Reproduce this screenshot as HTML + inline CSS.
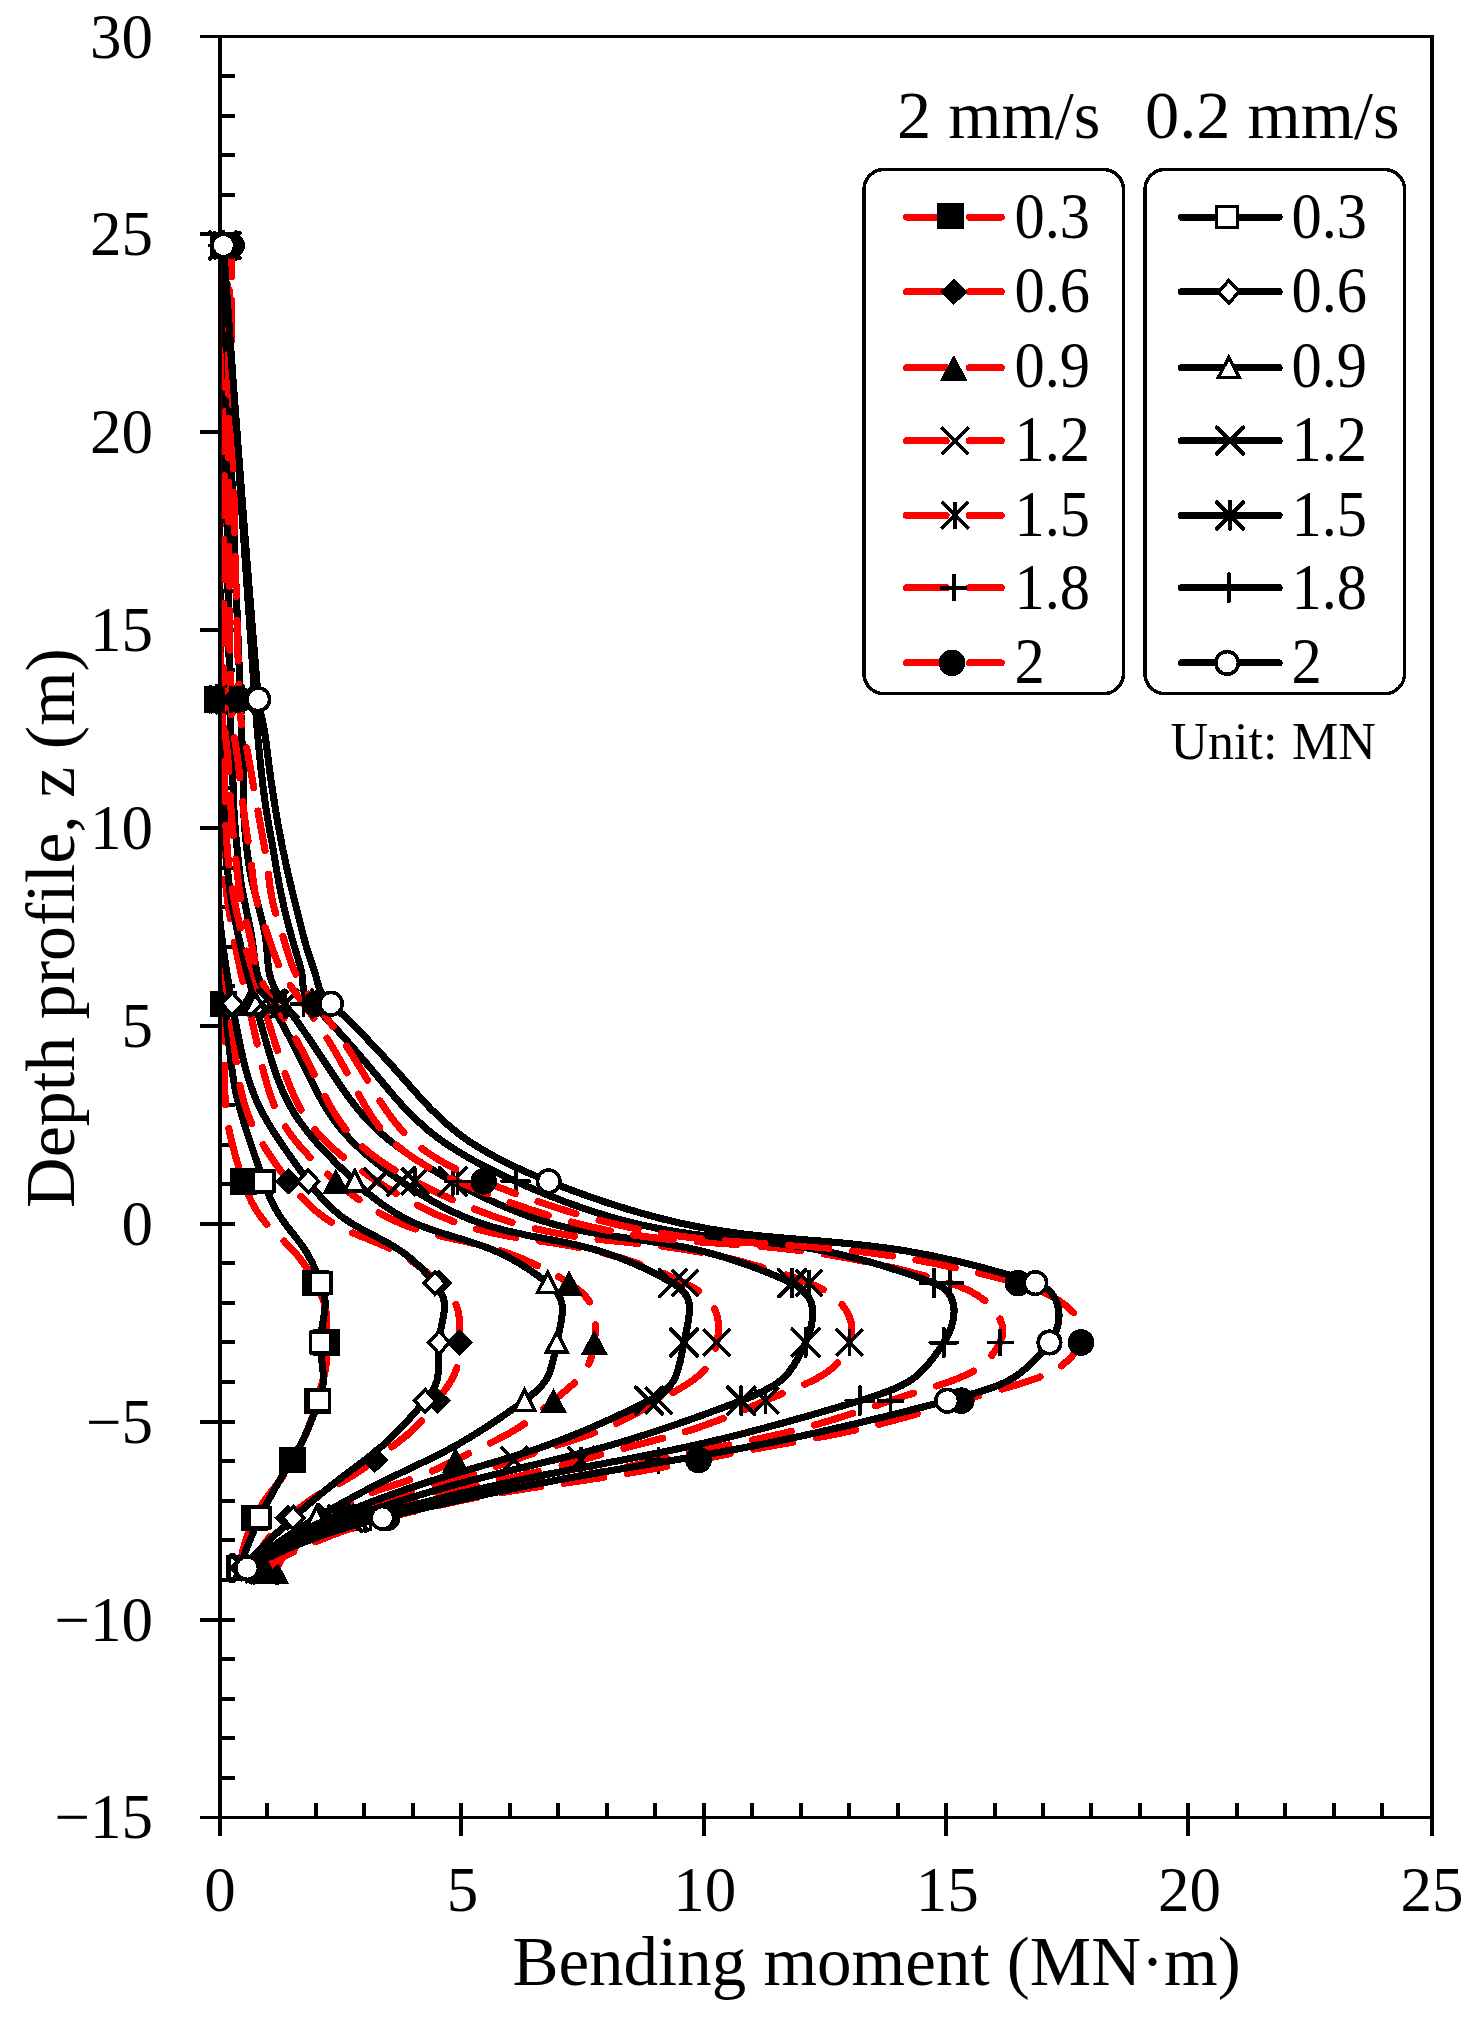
<!DOCTYPE html>
<html lang="en"><head><meta charset="utf-8"><title>Bending moment along depth profile</title>
<style>html,body{margin:0;padding:0;background:#fff}svg{display:block}text{font-family:"Liberation Serif","Times New Roman",Times,serif;fill:#000}.n{font-size:63px}.l{font-size:60.5px}.t{font-size:69px}.v{font-size:70px}.h{font-size:68.4px}.u{font-size:52px}</style></head><body>
<svg width="1481" height="2027" viewBox="0 0 1481 2027" shape-rendering="crispEdges">
<rect width="1481" height="2027" fill="#fff"/>
<g class="n" text-anchor="end">
<text x="153" y="1838.4">−15</text>
<text x="153" y="1640.5">−10</text>
<text x="153" y="1442.6">−5</text>
<text x="153" y="1244.8">0</text>
<text x="153" y="1046.9">5</text>
<text x="153" y="849">10</text>
<text x="153" y="651.1">15</text>
<text x="153" y="453.3">20</text>
<text x="153" y="255.4">25</text>
<text x="153" y="57.5">30</text>
</g>
<g class="n" text-anchor="middle">
<text x="220" y="1910.5">0</text>
<text x="462.4" y="1910.5">5</text>
<text x="704.8" y="1910.5">10</text>
<text x="947.2" y="1910.5">15</text>
<text x="1189.6" y="1910.5">20</text>
<text x="1432" y="1910.5">25</text>
</g>
<text class="t" text-anchor="middle" x="876.5" y="1985">Bending moment (MN·m)</text>
<text class="v" text-anchor="middle" transform="translate(73.5 928) rotate(-90)">Depth profile, z (m)</text>
<path d="M200 1620H235M200 1422H235M200 1224H235M200 1026H235M200 828H235M200 630H235M200 432H235M200 234H235M461 1803V1836M704 1803V1836M946 1803V1836M1188 1803V1836M220 1778H235M220 1738H235M220 1699H235M220 1659H235M220 1580H235M220 1540H235M220 1501H235M220 1461H235M220 1382H235M220 1342H235M220 1303H235M220 1263H235M220 1184H235M220 1145H235M220 1105H235M220 1065H235M220 986H235M220 947H235M220 907H235M220 868H235M220 788H235M220 749H235M220 709H235M220 670H235M220 591H235M220 551H235M220 511H235M220 472H235M220 393H235M220 353H235M220 314H235M220 274H235M220 195H235M220 155H235M220 116H235M220 76H235M267 1803V1817.4M316 1803V1817.4M364 1803V1817.4M413 1803V1817.4M510 1803V1817.4M558 1803V1817.4M607 1803V1817.4M655 1803V1817.4M752 1803V1817.4M801 1803V1817.4M849 1803V1817.4M898 1803V1817.4M995 1803V1817.4M1043 1803V1817.4M1091 1803V1817.4M1140 1803V1817.4M1237 1803V1817.4M1285 1803V1817.4M1334 1803V1817.4M1382 1803V1817.4" stroke="#000" fill="none" stroke-width="4"/>
<g stroke="#000" fill="none" stroke-linecap="butt"><path d="M200 36.5 H1433.9" stroke-width="3"/><path d="M200 1817.4 H1433.9" stroke-width="3"/><path d="M220 36.5 V1835.8" stroke-width="3.8"/><path d="M1432 35 V1835.8" stroke-width="3.8"/></g>
<clipPath id="pc"><rect x="221.9" y="36.5" width="1210.1" height="1780.9"/></clipPath>
<g fill="none" stroke-linejoin="round">
<path clip-path="url(#pc)" d="M239.4 1568.1C240.7 1559.1 243.4 1541.2 254.9 1517.8C270 1487.1 276.6 1490.4 292.7 1460C307.7 1431.8 308.1 1431.3 317 1400.7C325.1 1372.5 327 1371.5 326.7 1342.5C326.3 1312.8 329.1 1309.4 315.5 1283.1C287.4 1228.9 262.2 1238.8 243.3 1181.4C216.1 1099.1 228.1 1092.9 223.4 1003.7C215.3 851.9 217.5 851.6 217.6 699.4C217.7 472.4 221.8 321.1 223.9 245.5" stroke="#f00" stroke-width="7.1" stroke-linecap="round" stroke-dasharray="40 24"/>
<rect x="210.4" y="232.3" width="27" height="26.4" fill="#000"/><rect x="204.1" y="686.2" width="27" height="26.4" fill="#000"/><rect x="209.9" y="990.5" width="27" height="26.4" fill="#000"/><rect x="229.8" y="1168.2" width="27" height="26.4" fill="#000"/><rect x="302" y="1269.9" width="27" height="26.4" fill="#000"/><rect x="313.2" y="1329.3" width="27" height="26.4" fill="#000"/><rect x="303.5" y="1387.5" width="27" height="26.4" fill="#000"/><rect x="279.2" y="1446.8" width="27" height="26.4" fill="#000"/><rect x="241.4" y="1504.6" width="27" height="26.4" fill="#000"/><rect x="225.9" y="1554.9" width="27" height="26.4" fill="#000"/>
<path clip-path="url(#pc)" d="M221.5 245.5C220.6 321.1 219 472.4 220 699.4C220.7 851.6 211.2 852.9 224.8 1003.7C233 1093.9 234.4 1096.3 263.6 1181.4C282.4 1236 301.9 1229.7 320.8 1283.1C330.5 1310.3 321.3 1312.8 320.8 1342.5C320.4 1371.6 328.3 1373.7 318.9 1400.7C297.7 1461.4 287.9 1458.6 259.8 1517.8C248.1 1542.3 242.3 1559.5 239.4 1568.1" stroke="#000" stroke-width="7.1" stroke-linecap="round"/>
<rect x="253.2" y="1171" width="20.8" height="20.8" fill="#fff" stroke="#000" stroke-width="3.5"/><rect x="310.4" y="1272.7" width="20.8" height="20.8" fill="#fff" stroke="#000" stroke-width="3.5"/><rect x="310.4" y="1332.1" width="20.8" height="20.8" fill="#fff" stroke="#000" stroke-width="3.5"/><rect x="308.5" y="1390.3" width="20.8" height="20.8" fill="#fff" stroke="#000" stroke-width="3.5"/><rect x="249.4" y="1507.4" width="20.8" height="20.8" fill="#fff" stroke="#000" stroke-width="3.5"/><rect x="229" y="1557.7" width="20.8" height="20.8" fill="#fff" stroke="#000" stroke-width="3.5"/>
<path clip-path="url(#pc)" d="M249.1 1570.8C253.9 1560.3 263.6 1539.2 287.9 1517.8C326.4 1483.8 333.8 1492.1 374.7 1460C408.4 1433.5 412.6 1434.8 437.2 1400.7C455 1376 459 1371.8 459.5 1342.5C460 1313 461.1 1303.8 439.1 1283.1C375.5 1223.3 340.2 1250.2 288.4 1181.4C235 1110.5 241.7 1095.6 228.7 1003.7C207.6 854.5 220.9 851.6 220 699.4C218.7 472.5 222.5 321.1 224.4 245.5" stroke="#f00" stroke-width="7.1" stroke-linecap="round" stroke-dasharray="40 24"/>
<path d="M224.4 232.3l13.7 13.2l-13.7 13.2l-13.7 -13.2z" fill="#000"/><path d="M220 686.2l13.7 13.2l-13.7 13.2l-13.7 -13.2z" fill="#000"/><path d="M228.7 990.5l13.7 13.2l-13.7 13.2l-13.7 -13.2z" fill="#000"/><path d="M288.4 1168.2l13.7 13.2l-13.7 13.2l-13.7 -13.2z" fill="#000"/><path d="M439.1 1269.9l13.7 13.2l-13.7 13.2l-13.7 -13.2z" fill="#000"/><path d="M459.5 1329.3l13.7 13.2l-13.7 13.2l-13.7 -13.2z" fill="#000"/><path d="M437.2 1387.5l13.7 13.2l-13.7 13.2l-13.7 -13.2z" fill="#000"/><path d="M374.7 1446.8l13.7 13.2l-13.7 13.2l-13.7 -13.2z" fill="#000"/><path d="M287.9 1504.6l13.7 13.2l-13.7 13.2l-13.7 -13.2z" fill="#000"/><path d="M249.1 1557.6l13.7 13.2l-13.7 13.2l-13.7 -13.2z" fill="#000"/>
<path clip-path="url(#pc)" d="M221.9 245.5C220.6 321.1 217.9 472.5 221 699.4C223 851.6 205.4 856.3 232.1 1003.7C249.1 1097.3 253.2 1105.5 308.2 1181.4C354.5 1245.2 386.9 1224.2 434.8 1283.1C452.3 1304.7 441.5 1313.2 439.1 1342.5C436.7 1372 443.6 1378.5 425.1 1400.7C370.6 1466.1 358.3 1458.3 293.2 1517.8C266.7 1542 250.1 1559.4 241.8 1568.1" stroke="#000" stroke-width="7.1" stroke-linecap="round"/>
<path d="M232.1 992.5l10.6 11.2l-10.6 11.2l-10.6 -11.2z" fill="#fff" stroke="#000" stroke-width="3.5" stroke-linejoin="miter"/><path d="M308.2 1170.2l10.6 11.2l-10.6 11.2l-10.6 -11.2z" fill="#fff" stroke="#000" stroke-width="3.5" stroke-linejoin="miter"/><path d="M434.8 1271.9l10.6 11.2l-10.6 11.2l-10.6 -11.2z" fill="#fff" stroke="#000" stroke-width="3.5" stroke-linejoin="miter"/><path d="M439.1 1331.3l10.6 11.2l-10.6 11.2l-10.6 -11.2z" fill="#fff" stroke="#000" stroke-width="3.5" stroke-linejoin="miter"/><path d="M425.1 1389.5l10.6 11.2l-10.6 11.2l-10.6 -11.2z" fill="#fff" stroke="#000" stroke-width="3.5" stroke-linejoin="miter"/><path d="M293.2 1506.6l10.6 11.2l-10.6 11.2l-10.6 -11.2z" fill="#fff" stroke="#000" stroke-width="3.5" stroke-linejoin="miter"/><path d="M241.8 1556.9l10.6 11.2l-10.6 11.2l-10.6 -11.2z" fill="#fff" stroke="#000" stroke-width="3.5" stroke-linejoin="miter"/>
<path clip-path="url(#pc)" d="M275.3 1570.8C281 1559.2 292.4 1535.9 321.8 1517.8C382.6 1480.5 390.7 1492.8 455.6 1460C506.6 1434.3 510.8 1436.9 553.5 1400.7C580.1 1378.2 590.2 1373.3 594.3 1342.5C598 1314.5 595.2 1299.4 569.1 1283.1C466 1218.9 426.1 1259.9 335.9 1181.4C265.6 1120.2 270.7 1098.5 248.1 1003.7C213.3 857.5 225.7 851.9 221 699.4C214 472.8 221.2 321.2 224.8 245.5" stroke="#f00" stroke-width="7.1" stroke-linecap="round" stroke-dasharray="40 24"/>
<path d="M224.8 232.8l13.7 25.4h-27.4z" fill="#000"/><path d="M221 686.7l13.7 25.4h-27.4z" fill="#000"/><path d="M248.1 991l13.7 25.4h-27.4z" fill="#000"/><path d="M335.9 1168.7l13.7 25.4h-27.4z" fill="#000"/><path d="M569.1 1270.4l13.7 25.4h-27.4z" fill="#000"/><path d="M594.3 1329.8l13.7 25.4h-27.4z" fill="#000"/><path d="M553.5 1388l13.7 25.4h-27.4z" fill="#000"/><path d="M455.6 1447.3l13.7 25.4h-27.4z" fill="#000"/><path d="M321.8 1505.1l13.7 25.4h-27.4z" fill="#000"/><path d="M275.3 1558.1l13.7 25.4h-27.4z" fill="#000"/>
<path clip-path="url(#pc)" d="M222.4 245.5C219 321.3 212.1 473 221.9 699.4C228.6 852.1 215.5 859 255.4 1003.7C281.9 1100 284.2 1114 354.8 1181.4C430.4 1253.7 468.5 1220 547.7 1283.1C569.6 1300.5 562.5 1314.6 556.9 1342.5C550.8 1373.4 550.7 1381.5 524.5 1400.7C430.5 1469.2 418.8 1456.7 316.5 1517.8C278.7 1540.4 255.7 1558.8 244.2 1568.1" stroke="#000" stroke-width="7.1" stroke-linecap="round"/>
<path d="M255.4 993.1l10.3 20.2h-20.6z" fill="#fff" stroke="#000" stroke-width="3.5" stroke-linejoin="miter"/><path d="M354.8 1170.8l10.3 20.2h-20.6z" fill="#fff" stroke="#000" stroke-width="3.5" stroke-linejoin="miter"/><path d="M547.7 1272.5l10.3 20.2h-20.6z" fill="#fff" stroke="#000" stroke-width="3.5" stroke-linejoin="miter"/><path d="M556.9 1331.9l10.3 20.2h-20.6z" fill="#fff" stroke="#000" stroke-width="3.5" stroke-linejoin="miter"/><path d="M524.5 1390.1l10.3 20.2h-20.6z" fill="#fff" stroke="#000" stroke-width="3.5" stroke-linejoin="miter"/><path d="M316.5 1507.2l10.3 20.2h-20.6z" fill="#fff" stroke="#000" stroke-width="3.5" stroke-linejoin="miter"/><path d="M244.2 1557.5l10.3 20.2h-20.6z" fill="#fff" stroke="#000" stroke-width="3.5" stroke-linejoin="miter"/>
<path clip-path="url(#pc)" d="M266.1 1570.8C277.2 1559.4 299.6 1536.4 341.2 1517.8C423.7 1481 428.7 1491.6 514.3 1460C587.5 1433 592.4 1439.2 658.7 1400.7C693.7 1380.4 709.7 1374.8 716.9 1342.5C722.8 1316 714.2 1297 684.9 1283.1C544.3 1216.5 504.9 1266 377.1 1181.4C293.8 1126.3 294.3 1102 262.7 1003.7C216.7 861 229.3 852.4 221.9 699.4C211.1 473.2 221.2 321.4 226.3 245.5" stroke="#f00" stroke-width="7.1" stroke-linecap="round" stroke-dasharray="40 24"/>
<path d="M212.9 232.1l26.8 26.8M212.9 258.9l26.8 -26.8" fill="none" stroke="#000" stroke-width="3.6" stroke-linecap="butt"/><path d="M208.5 686l26.8 26.8M208.5 712.8l26.8 -26.8" fill="none" stroke="#000" stroke-width="3.6" stroke-linecap="butt"/><path d="M249.3 990.3l26.8 26.8M249.3 1017.1l26.8 -26.8" fill="none" stroke="#000" stroke-width="3.6" stroke-linecap="butt"/><path d="M363.7 1168l26.8 26.8M363.7 1194.8l26.8 -26.8" fill="none" stroke="#000" stroke-width="3.6" stroke-linecap="butt"/><path d="M671.5 1269.7l26.8 26.8M671.5 1296.5l26.8 -26.8" fill="none" stroke="#000" stroke-width="3.6" stroke-linecap="butt"/><path d="M703.5 1329.1l26.8 26.8M703.5 1355.9l26.8 -26.8" fill="none" stroke="#000" stroke-width="3.6" stroke-linecap="butt"/><path d="M645.3 1387.3l26.8 26.8M645.3 1414.1l26.8 -26.8" fill="none" stroke="#000" stroke-width="3.6" stroke-linecap="butt"/><path d="M500.9 1446.6l26.8 26.8M500.9 1473.4l26.8 -26.8" fill="none" stroke="#000" stroke-width="3.6" stroke-linecap="butt"/><path d="M327.8 1504.4l26.8 26.8M327.8 1531.2l26.8 -26.8" fill="none" stroke="#000" stroke-width="3.6" stroke-linecap="butt"/><path d="M252.7 1557.4l26.8 26.8M252.7 1584.2l26.8 -26.8" fill="none" stroke="#000" stroke-width="3.6" stroke-linecap="butt"/>
<path clip-path="url(#pc)" d="M222.9 245.5C223.8 321.1 225.6 472.4 229.7 699.4C230.2 730.1 230.6 730.1 232.1 760.7C234.3 804.3 232.4 804.5 237 847.8C240.9 885.6 241 885.8 249.1 923C258 963.8 250 968.2 270.9 1003.7C326.1 1097.4 314.5 1121.1 401.3 1181.4C515.5 1260.8 555.9 1216.5 672.8 1283.1C697.2 1297 689.5 1314.8 684 1342.5C677.7 1373.6 678.5 1386 649 1400.7C502.2 1473.7 487.5 1453.3 331.5 1517.8C285.1 1537 257.9 1557.7 244.2 1568.1" stroke="#000" stroke-width="7.1" stroke-linecap="round"/>
<path d="M209.7 232.3l26.4 26.4M209.7 258.7l26.4 -26.4" fill="none" stroke="#000" stroke-width="4.0" stroke-linecap="round"/><path d="M216.5 686.2l26.4 26.4M216.5 712.6l26.4 -26.4" fill="none" stroke="#000" stroke-width="4.0" stroke-linecap="round"/><path d="M257.7 990.5l26.4 26.4M257.7 1016.9l26.4 -26.4" fill="none" stroke="#000" stroke-width="4.0" stroke-linecap="round"/><path d="M388.1 1168.2l26.4 26.4M388.1 1194.6l26.4 -26.4" fill="none" stroke="#000" stroke-width="4.0" stroke-linecap="round"/><path d="M659.6 1269.9l26.4 26.4M659.6 1296.3l26.4 -26.4" fill="none" stroke="#000" stroke-width="4.0" stroke-linecap="round"/><path d="M670.8 1329.3l26.4 26.4M670.8 1355.7l26.4 -26.4" fill="none" stroke="#000" stroke-width="4.0" stroke-linecap="round"/><path d="M635.8 1387.5l26.4 26.4M635.8 1413.9l26.4 -26.4" fill="none" stroke="#000" stroke-width="4.0" stroke-linecap="round"/><path d="M318.3 1504.6l26.4 26.4M318.3 1531l26.4 -26.4" fill="none" stroke="#000" stroke-width="4.0" stroke-linecap="round"/><path d="M231 1554.9l26.4 26.4M231 1581.3l26.4 -26.4" fill="none" stroke="#000" stroke-width="4.0" stroke-linecap="round"/>
<path clip-path="url(#pc)" d="M263.6 1570.8C277.7 1559 306 1535.2 355.7 1517.8C464.7 1479.8 469.4 1492 581.2 1460C674.2 1433.4 677.6 1439.1 765.4 1400.7C811.7 1380.4 836.5 1377 849.3 1342.5C858.3 1318.2 841.6 1295.2 809 1283.1C624.4 1214.7 586.6 1271.2 414.9 1181.4C319.4 1131.5 335.8 1097.5 274.8 1003.7C251.7 968.3 257.3 964.2 246.7 923C237.2 886.3 238.9 885.6 234.5 847.8C229.6 804.5 231.3 804.3 228 760.7C225.7 730.1 223.4 730.1 223.4 699.4C223.3 472.5 226.3 321.1 227.8 245.5" stroke="#f00" stroke-width="7.1" stroke-linecap="round" stroke-dasharray="40 24"/>
<path d="M214.4 232.1l26.8 26.8M214.4 258.9l26.8 -26.8M227.8 232v27" fill="none" stroke="#000" stroke-width="3.6" stroke-linecap="butt"/><path d="M210 686l26.8 26.8M210 712.8l26.8 -26.8M223.4 685.9v27" fill="none" stroke="#000" stroke-width="3.6" stroke-linecap="butt"/><path d="M261.4 990.3l26.8 26.8M261.4 1017.1l26.8 -26.8M274.8 990.2v27" fill="none" stroke="#000" stroke-width="3.6" stroke-linecap="butt"/><path d="M401.5 1168l26.8 26.8M401.5 1194.8l26.8 -26.8M414.9 1167.9v27" fill="none" stroke="#000" stroke-width="3.6" stroke-linecap="butt"/><path d="M795.6 1269.7l26.8 26.8M795.6 1296.5l26.8 -26.8M809 1269.6v27" fill="none" stroke="#000" stroke-width="3.6" stroke-linecap="butt"/><path d="M835.9 1329.1l26.8 26.8M835.9 1355.9l26.8 -26.8M849.3 1329v27" fill="none" stroke="#000" stroke-width="3.6" stroke-linecap="butt"/><path d="M752 1387.3l26.8 26.8M752 1414.1l26.8 -26.8M765.4 1387.2v27" fill="none" stroke="#000" stroke-width="3.6" stroke-linecap="butt"/><path d="M567.8 1446.6l26.8 26.8M567.8 1473.4l26.8 -26.8M581.2 1446.5v27" fill="none" stroke="#000" stroke-width="3.6" stroke-linecap="butt"/><path d="M342.3 1504.4l26.8 26.8M342.3 1531.2l26.8 -26.8M355.7 1504.3v27" fill="none" stroke="#000" stroke-width="3.6" stroke-linecap="butt"/><path d="M250.2 1557.4l26.8 26.8M250.2 1584.2l26.8 -26.8M263.6 1557.3v27" fill="none" stroke="#000" stroke-width="3.6" stroke-linecap="butt"/>
<path clip-path="url(#pc)" d="M222.9 245.5C225.8 321.1 231.6 472.4 240.4 699.4C241.5 730.1 241.5 730.1 242.8 760.7C244.6 804.3 241.4 804.7 246.7 847.8C251.3 885.8 253.6 885.7 262.7 923C272.5 963.6 260.3 970.8 284.5 1003.7C355.3 1100 349 1124.3 452.7 1181.4C602.8 1264.1 641.5 1214.4 792.1 1283.1C817.9 1294.9 816.1 1318.3 805.6 1342.5C790.7 1377 781.1 1385.3 741.2 1400.7C552.5 1473 542.1 1452.3 348.5 1517.8C294.8 1536 262.7 1557.4 246.7 1568.1" stroke="#000" stroke-width="7.1" stroke-linecap="round"/>
<path d="M209.7 232.3l26.4 26.4M209.7 258.7l26.4 -26.4M222.9 232v27" fill="none" stroke="#000" stroke-width="4.0" stroke-linecap="round"/><path d="M227.2 686.2l26.4 26.4M227.2 712.6l26.4 -26.4M240.4 685.9v27" fill="none" stroke="#000" stroke-width="4.0" stroke-linecap="round"/><path d="M271.3 990.5l26.4 26.4M271.3 1016.9l26.4 -26.4M284.5 990.2v27" fill="none" stroke="#000" stroke-width="4.0" stroke-linecap="round"/><path d="M439.5 1168.2l26.4 26.4M439.5 1194.6l26.4 -26.4M452.7 1167.9v27" fill="none" stroke="#000" stroke-width="4.0" stroke-linecap="round"/><path d="M778.9 1269.9l26.4 26.4M778.9 1296.3l26.4 -26.4M792.1 1269.6v27" fill="none" stroke="#000" stroke-width="4.0" stroke-linecap="round"/><path d="M792.4 1329.3l26.4 26.4M792.4 1355.7l26.4 -26.4M805.6 1329v27" fill="none" stroke="#000" stroke-width="4.0" stroke-linecap="round"/><path d="M728 1387.5l26.4 26.4M728 1413.9l26.4 -26.4M741.2 1387.2v27" fill="none" stroke="#000" stroke-width="4.0" stroke-linecap="round"/><path d="M335.3 1504.6l26.4 26.4M335.3 1531l26.4 -26.4M348.5 1504.3v27" fill="none" stroke="#000" stroke-width="4.0" stroke-linecap="round"/><path d="M233.5 1554.9l26.4 26.4M233.5 1581.3l26.4 -26.4M246.7 1554.6v27" fill="none" stroke="#000" stroke-width="4.0" stroke-linecap="round"/>
<path clip-path="url(#pc)" d="M261.2 1570.8C278.2 1558.6 312.3 1534 370.3 1517.8C510.8 1478.6 515 1492.3 658.3 1460C775.1 1433.7 777.9 1439.4 890.5 1400.7C948.8 1380.6 981.7 1378.7 1000 1342.5C1011.5 1319.9 986.4 1293.9 950.1 1283.1C715.1 1213.4 677.9 1276.6 457.6 1181.4C354.5 1136.9 373.5 1097.2 303.4 1003.7C276.6 968 278.3 965.1 263.6 923C251.1 887.1 255.1 885.6 249.1 847.8C242.2 804.5 243.3 804.3 237.9 760.7C234.1 730.1 231.2 730.3 230.7 699.4C227 472.6 228.8 321.2 229.7 245.5" stroke="#f00" stroke-width="7.1" stroke-linecap="round" stroke-dasharray="40 24"/>
<path d="M216.2 245.5h27M229.7 232v27" fill="none" stroke="#000" stroke-width="3.6" stroke-linecap="butt"/><path d="M217.2 699.4h27M230.7 685.9v27" fill="none" stroke="#000" stroke-width="3.6" stroke-linecap="butt"/><path d="M289.9 1003.7h27M303.4 990.2v27" fill="none" stroke="#000" stroke-width="3.6" stroke-linecap="butt"/><path d="M444.1 1181.4h27M457.6 1167.9v27" fill="none" stroke="#000" stroke-width="3.6" stroke-linecap="butt"/><path d="M936.6 1283.1h27M950.1 1269.6v27" fill="none" stroke="#000" stroke-width="3.6" stroke-linecap="butt"/><path d="M986.5 1342.5h27M1000 1329v27" fill="none" stroke="#000" stroke-width="3.6" stroke-linecap="butt"/><path d="M877 1400.7h27M890.5 1387.2v27" fill="none" stroke="#000" stroke-width="3.6" stroke-linecap="butt"/><path d="M644.8 1460h27M658.3 1446.5v27" fill="none" stroke="#000" stroke-width="3.6" stroke-linecap="butt"/><path d="M356.8 1517.8h27M370.3 1504.3v27" fill="none" stroke="#000" stroke-width="3.6" stroke-linecap="butt"/><path d="M247.7 1570.8h27M261.2 1557.3v27" fill="none" stroke="#000" stroke-width="3.6" stroke-linecap="butt"/>
<path clip-path="url(#pc)" d="M223.4 245.5C228.3 321.1 238.2 472.5 254.9 699.4C258.2 744.2 257.9 744.3 263.3 788.8C266.9 818.5 267.7 818.4 272.9 847.8C278.1 877.5 277.2 877.8 284 907.2C290.9 937.1 291.7 937 300.3 966.5C305.7 985.3 298.5 990.2 312.1 1003.7C406.2 1097.6 395.8 1127.5 515.7 1181.4C706.8 1267.3 746.3 1212.5 934.1 1283.1C960.3 1293 957.6 1320.7 943.8 1342.5C920.5 1379.5 908.3 1386 859.9 1400.7C619.1 1473.7 610 1451.1 365.4 1517.8C303.4 1534.8 265.6 1557 246.7 1568.1" stroke="#000" stroke-width="7.1" stroke-linecap="round"/>
<path d="M209.9 245.5h27M223.4 232v27" fill="none" stroke="#000" stroke-width="4.0" stroke-linecap="round"/><path d="M241.4 699.4h27M254.9 685.9v27" fill="none" stroke="#000" stroke-width="4.0" stroke-linecap="round"/><path d="M298.6 1003.7h27M312.1 990.2v27" fill="none" stroke="#000" stroke-width="4.0" stroke-linecap="round"/><path d="M502.2 1181.4h27M515.7 1167.9v27" fill="none" stroke="#000" stroke-width="4.0" stroke-linecap="round"/><path d="M920.6 1283.1h27M934.1 1269.6v27" fill="none" stroke="#000" stroke-width="4.0" stroke-linecap="round"/><path d="M930.3 1342.5h27M943.8 1329v27" fill="none" stroke="#000" stroke-width="4.0" stroke-linecap="round"/><path d="M846.4 1400.7h27M859.9 1387.2v27" fill="none" stroke="#000" stroke-width="4.0" stroke-linecap="round"/><path d="M351.9 1517.8h27M365.4 1504.3v27" fill="none" stroke="#000" stroke-width="4.0" stroke-linecap="round"/><path d="M233.2 1568.1h27M246.7 1554.6v27" fill="none" stroke="#000" stroke-width="4.0" stroke-linecap="round"/>
<path clip-path="url(#pc)" d="M258.8 1570.8C279.2 1558.8 320.2 1534.7 387.3 1517.8C540 1479.3 543.4 1491.7 698.5 1460C830.4 1433.1 833.3 1440 961.3 1400.7C1024.5 1381.2 1063.8 1378.1 1081 1342.5C1092.2 1319.3 1059 1294.2 1018 1283.1C760.4 1213.7 725.9 1277.8 483.7 1181.4C374.9 1138.1 391.2 1098.5 316 1003.7C288.6 969.2 292.5 964.9 278.7 923C266.8 886.9 271.5 885.4 264.6 847.8C256.7 804.3 256.5 804.3 249.1 760.7C243.9 730.1 240.4 730.4 239.4 699.4C231.7 472.8 231.7 321.2 231.6 245.5" stroke="#f00" stroke-width="7.1" stroke-linecap="round" stroke-dasharray="40 24"/>
<circle cx="231.6" cy="245.5" r="13.3" fill="#000"/><circle cx="239.4" cy="699.4" r="13.3" fill="#000"/><circle cx="316" cy="1003.7" r="13.3" fill="#000"/><circle cx="483.7" cy="1181.4" r="13.3" fill="#000"/><circle cx="1018" cy="1283.1" r="13.3" fill="#000"/><circle cx="1081" cy="1342.5" r="13.3" fill="#000"/><circle cx="961.3" cy="1400.7" r="13.3" fill="#000"/><circle cx="698.5" cy="1460" r="13.3" fill="#000"/><circle cx="387.3" cy="1517.8" r="13.3" fill="#000"/><circle cx="258.8" cy="1570.8" r="13.3" fill="#000"/>
<path clip-path="url(#pc)" d="M223.4 245.5C228.7 321.2 239.2 472.7 258.3 699.4C259.6 714.7 261.8 714.3 264.2 729.5C268.8 759.1 267.7 759.2 272.3 788.8C276.9 818.4 276.6 818.5 282.5 847.8C288.5 877.6 288.7 877.7 296.2 907.2C303.9 937 302.5 937.6 312.9 966.5C319.9 985.9 315.9 989.9 331 1003.7C433.8 1097.4 421.5 1131 548.7 1181.4C773.7 1270.7 812.4 1211.4 1035.4 1283.1C1062.8 1291.9 1064.6 1322.4 1049.5 1342.5C1020.4 1381.2 1003.7 1385.8 947.2 1400.7C670.2 1473.5 662.4 1450.9 382.4 1517.8C312.4 1534.6 268.9 1556.9 247.1 1568.1" stroke="#000" stroke-width="7.1" stroke-linecap="round"/>
<circle cx="223.4" cy="245.5" r="11.3" fill="#fff" stroke="#000" stroke-width="3.6"/><circle cx="258.3" cy="699.4" r="11.3" fill="#fff" stroke="#000" stroke-width="3.6"/><circle cx="331" cy="1003.7" r="11.3" fill="#fff" stroke="#000" stroke-width="3.6"/><circle cx="548.7" cy="1181.4" r="11.3" fill="#fff" stroke="#000" stroke-width="3.6"/><circle cx="1035.4" cy="1283.1" r="11.3" fill="#fff" stroke="#000" stroke-width="3.6"/><circle cx="1049.5" cy="1342.5" r="11.3" fill="#fff" stroke="#000" stroke-width="3.6"/><circle cx="947.2" cy="1400.7" r="11.3" fill="#fff" stroke="#000" stroke-width="3.6"/><circle cx="382.4" cy="1517.8" r="11.3" fill="#fff" stroke="#000" stroke-width="3.6"/><circle cx="247.1" cy="1568.1" r="11.3" fill="#fff" stroke="#000" stroke-width="3.6"/>
</g>
<text class="h" x="897" y="137.8">2 mm/s</text>
<text class="h" x="1145" y="137.8">0.2 mm/s</text>
<rect x="864" y="169.5" width="259.5" height="524.2" rx="20" ry="20" fill="#fff" stroke="#000" stroke-width="3.5"/>
<rect x="1145" y="169.5" width="259.6" height="524.2" rx="20" ry="20" fill="#fff" stroke="#000" stroke-width="3.5"/>
<path d="M906.5 217.1H1001.2" fill="none" stroke="#f00" stroke-width="7.1" stroke-linecap="round" stroke-dasharray="39.6 23.3"/>
<rect x="936.9" y="202.6" width="27" height="26.4" fill="#000"/>
<path d="M1181.4 217.1H1279.1" fill="none" stroke="#000" stroke-width="7.1" stroke-linecap="round"/>
<rect x="1216.7" y="206.7" width="20.8" height="20.8" fill="#fff" stroke="#000" stroke-width="3.5"/>
<text class="l" transform="translate(1014.5 238.1) scale(1 1.07)">0.3</text>
<text class="l" transform="translate(1291.5 238.1) scale(1 1.07)">0.3</text>
<path d="M906.5 291.8H1001.2" fill="none" stroke="#f00" stroke-width="7.1" stroke-linecap="round" stroke-dasharray="39.6 23.3"/>
<path d="M953.8 278.6l13.7 13.2l-13.7 13.2l-13.7 -13.2z" fill="#000"/>
<path d="M1181.4 291.8H1279.1" fill="none" stroke="#000" stroke-width="7.1" stroke-linecap="round"/>
<path d="M1228.8 280.6l10.6 11.2l-10.6 11.2l-10.6 -11.2z" fill="#fff" stroke="#000" stroke-width="3.5" stroke-linejoin="miter"/>
<text class="l" transform="translate(1014.5 312) scale(1 1.07)">0.6</text>
<text class="l" transform="translate(1291.5 312) scale(1 1.07)">0.6</text>
<path d="M906.5 367.8H1001.2" fill="none" stroke="#f00" stroke-width="7.1" stroke-linecap="round" stroke-dasharray="39.6 23.3"/>
<path d="M953.8 355.1l13.7 25.4h-27.4z" fill="#000"/>
<path d="M1181.4 367.8H1279.1" fill="none" stroke="#000" stroke-width="7.1" stroke-linecap="round"/>
<path d="M1228.8 357.2l10.3 20.2h-20.6z" fill="#fff" stroke="#000" stroke-width="3.5" stroke-linejoin="miter"/>
<text class="l" transform="translate(1014.5 387.2) scale(1 1.07)">0.9</text>
<text class="l" transform="translate(1291.5 387.2) scale(1 1.07)">0.9</text>
<path d="M906.5 440.7H1001.2" fill="none" stroke="#f00" stroke-width="7.1" stroke-linecap="round" stroke-dasharray="39.6 23.3"/>
<path d="M941.6 427.3l26.8 26.8M941.6 454.1l26.8 -26.8" fill="none" stroke="#000" stroke-width="3.6" stroke-linecap="butt"/>
<path d="M1181.4 440.7H1279.1" fill="none" stroke="#000" stroke-width="7.1" stroke-linecap="round"/>
<path d="M1216.8 427.5l26.4 26.4M1216.8 453.9l26.4 -26.4" fill="none" stroke="#000" stroke-width="4.0" stroke-linecap="round"/>
<text class="l" transform="translate(1014.5 461.2) scale(1 1.07)">1.2</text>
<text class="l" transform="translate(1291.5 461.2) scale(1 1.07)">1.2</text>
<path d="M906.5 515.4H1001.2" fill="none" stroke="#f00" stroke-width="7.1" stroke-linecap="round" stroke-dasharray="39.6 23.3"/>
<path d="M941.6 502l26.8 26.8M941.6 528.8l26.8 -26.8M955 501.9v27" fill="none" stroke="#000" stroke-width="3.6" stroke-linecap="butt"/>
<path d="M1181.4 515.4H1279.1" fill="none" stroke="#000" stroke-width="7.1" stroke-linecap="round"/>
<path d="M1216.8 502.2l26.4 26.4M1216.8 528.6l26.4 -26.4M1230 501.9v27" fill="none" stroke="#000" stroke-width="4.0" stroke-linecap="round"/>
<text class="l" transform="translate(1014.5 536.4) scale(1 1.07)">1.5</text>
<text class="l" transform="translate(1291.5 536.4) scale(1 1.07)">1.5</text>
<path d="M906.5 587.7H1001.2" fill="none" stroke="#f00" stroke-width="7.1" stroke-linecap="round" stroke-dasharray="39.6 23.3"/>
<path d="M940.3 587.7h27M953.8 574.2v27" fill="none" stroke="#000" stroke-width="3.6" stroke-linecap="butt"/>
<path d="M1181.4 587.7H1279.1" fill="none" stroke="#000" stroke-width="7.1" stroke-linecap="round"/>
<path d="M1215.3 587.7h27M1228.8 574.2v27" fill="none" stroke="#000" stroke-width="4.0" stroke-linecap="round"/>
<text class="l" transform="translate(1014.5 609.1) scale(1 1.07)">1.8</text>
<text class="l" transform="translate(1291.5 609.1) scale(1 1.07)">1.8</text>
<path d="M906.5 662.9H1001.2" fill="none" stroke="#f00" stroke-width="7.1" stroke-linecap="round" stroke-dasharray="39.6 23.3"/>
<circle cx="952" cy="662.9" r="13.3" fill="#000"/>
<path d="M1181.4 662.9H1279.1" fill="none" stroke="#000" stroke-width="7.1" stroke-linecap="round"/>
<circle cx="1227.1" cy="662.9" r="11.3" fill="#fff" stroke="#000" stroke-width="3.6"/>
<text class="l" transform="translate(1014.5 683.1) scale(1 1.07)">2</text>
<text class="l" transform="translate(1291.5 683.1) scale(1 1.07)">2</text>
<text class="u" y="759"><tspan x="1170.5">Unit: </tspan><tspan x="1292">MN</tspan></text>
</svg></body></html>
